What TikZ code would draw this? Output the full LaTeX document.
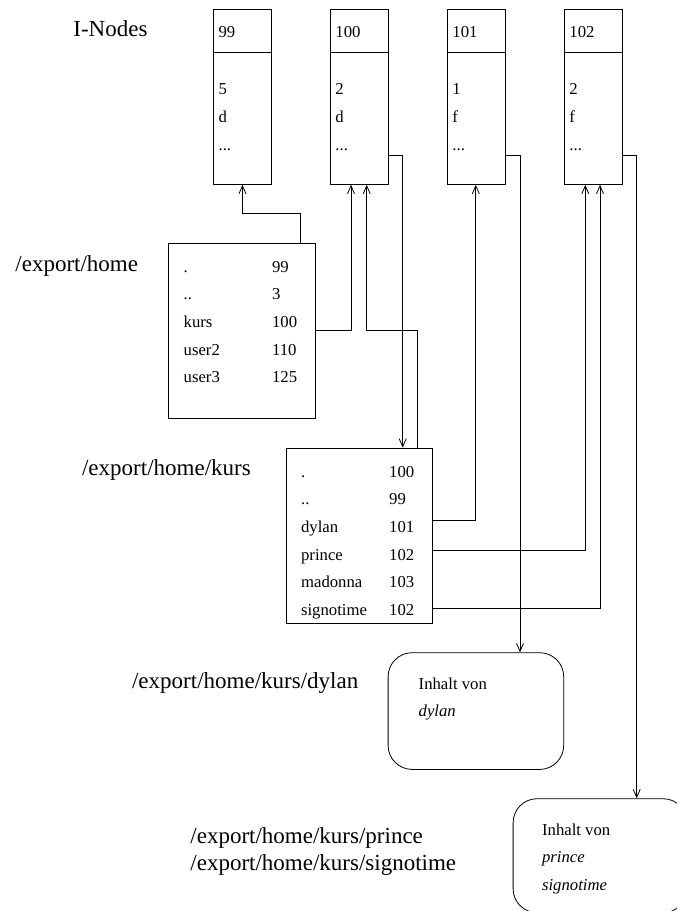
\documentclass[tikz,border=0pt]{standalone}
\usepackage{fontspec}
\setmainfont{Liberation Serif}
\usetikzlibrary{arrows.meta}
\tikzset{
  boxn/.style n args={2}{draw, inner sep=0pt, anchor=north west, minimum width=#1, minimum height=#2},
  rbox/.style n args={2}{boxn={#1}{#2}, rounded corners=24pt},
  txt/.style={anchor=base west, inner sep=0pt, font=\fontsize{16.7}{20}\selectfont},
  lbl/.style={anchor=base west, inner sep=0pt, font=\fontsize{23}{28}\selectfont},
  arr/.style={-{Straight Barb[length=8pt,width=7pt]}}
}
\begin{document}
\begin{tikzpicture}[x=1pt,y=-1pt,line width=0.8pt]
\useasboundingbox (0,0) rectangle (677,911);
\clip (0,0) rectangle (677,911);

% labels
\node[lbl] (lin) at (73,36.7) {I-Nodes};
\node[lbl] (lexp) at (15,271.7) {/export/home};
\node[lbl] (lkurs) at (81.7,475) {/export/home/kurs};
\node[lbl] (ldyl) at (131.7,688.3) {/export/home/kurs/dylan};
\node[lbl] (lpri) at (190,843.3) {/export/home/kurs/prince};
\node[lbl] (lsig) at (190,870) {/export/home/kurs/signotime};

% i-nodes
\foreach \n/\x/\a/\b in {99/212.7/5/d, 100/329.5/2/d, 101/446.5/1/f, 102/563.5/2/f} {
  \node[boxn={58.7pt}{175pt}] (i\n) at (\x,9) {};
  \draw ([yshift=-43.3pt]i\n.north west) -- ([yshift=-43.3pt]i\n.north east);
  \node[txt] (h\n) at (\x+5.5,37.3) {\n};
  \node[txt] (ra\n) at (\x+5.5,94) {\a};
  \node[txt] (rb\n) at (\x+5.5,122.3) {\b};
  \node[txt] (rc\n) at (\x+5.5,150.7) {...};
}

% directory /export/home
\node[boxn={146.7pt}{175.6pt}] (exph) at (168.3,242.7) {};
\foreach \a/\b [count=\i from 0] in {./99, ../3, kurs/100, user2/110, user3/125} {
  \node[txt] (en\i) at (183.3,272.2+27.65*\i) {\a};
  \node[txt] (ev\i) at (271.7,272.2+27.65*\i) {\b};
}

% directory /export/home/kurs
\node[boxn={146.6pt}{175pt}] (kurs) at (285.7,447.7) {};
\foreach \a/\b [count=\i from 0] in {./100, ../99, dylan/101, prince/102, madonna/103, signotime/102} {
  \node[txt] (kn\i) at (300.7,477.2+27.65*\i) {\a};
  \node[txt] (kv\i) at (388.8,477.2+27.65*\i) {\b};
}

% file contents
\node[rbox={175.6pt}{116.7pt}] (dyl) at (387.7,652.3) {};
\node[txt] (dt1) at (418.3,689.3) {Inhalt von};
\node[txt] (dt2) at (418.3,716) {\itshape dylan};
\node[rbox={174pt}{114pt}] (pri) at (512.7,798.3) {};
\node[txt] (pt1) at (541.7,835.5) {Inhalt von};
\node[txt] (pt2) at (541.7,862) {\itshape prince};
\node[txt] (pt3) at (541.7,890) {\itshape signotime};

% connectors
\coordinate (b1) at (300,213.3);
\draw[arr] (exph.north -| b1) -- (b1) -| (i99.south);
\coordinate (b2) at (351,330);
\draw[arr] (exph.east |- b2) -- (b2) -- (b2 |- i100.south);
\coordinate (b3) at (417.3,330);
\coordinate (b4) at (366.7,330);
\draw[arr] (kurs.north -| b3) -- (b3) -- (b4) -- (b4 |- i100.south);
\coordinate (b5) at (402.7,155);
\draw[arr] (i100.east |- b5) -- (b5) -- (b5 |- kurs.north);
\coordinate (b6) at (475.8,520.7);
\draw[arr] (kurs.east |- b6) -- (b6) -- (b6 |- i101.south);
\coordinate (b7) at (585.3,550);
\draw[arr] (kurs.east |- b7) -- (b7) -- (b7 |- i102.south);
\coordinate (b8) at (600,608.3);
\draw[arr] (kurs.east |- b8) -- (b8) -- (b8 |- i102.south);
\coordinate (b9) at (520,155);
\draw[arr] (i101.east |- b9) -- (b9) -- (b9 |- dyl.north);
\coordinate (b10) at (636.7,155);
\draw[arr] (i102.east |- b10) -- (b10) -- (b10 |- pri.north);
\end{tikzpicture}
\end{document}
